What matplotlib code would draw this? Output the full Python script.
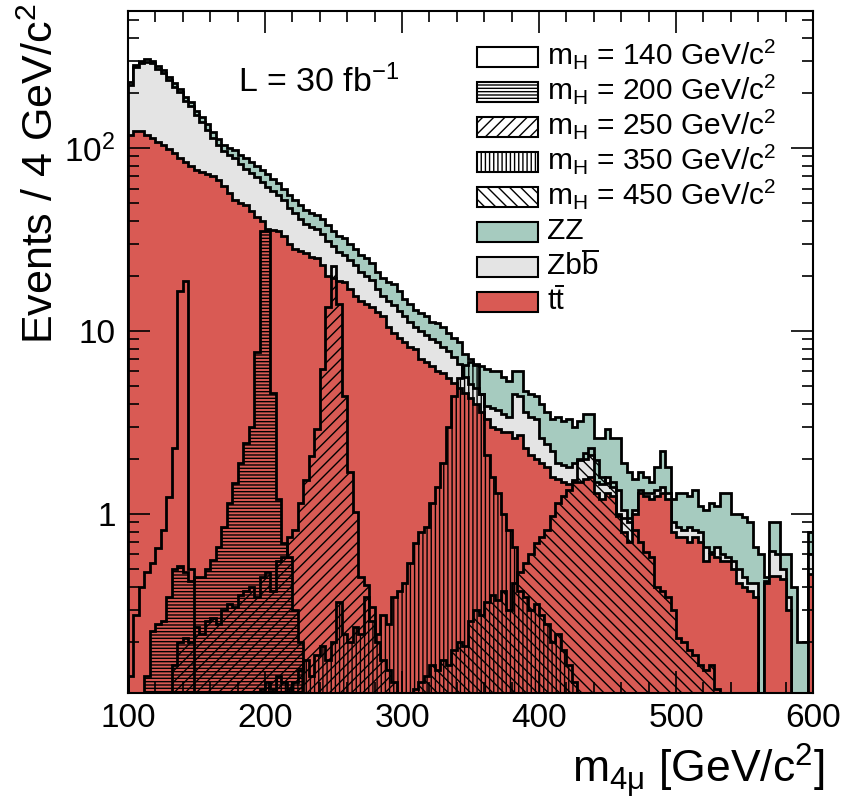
import numpy as np
import matplotlib
matplotlib.use("Agg")
import matplotlib.pyplot as plt
from matplotlib.patches import Rectangle
from matplotlib.lines import Line2D
from matplotlib.ticker import MultipleLocator, LogLocator, NullFormatter

plt.rcParams['font.family'] = ['Liberation Sans', 'DejaVu Sans']
plt.rcParams['mathtext.fontset'] = 'custom'
plt.rcParams['mathtext.rm'] = 'Liberation Sans'
plt.rcParams['mathtext.it'] = 'Liberation Sans:italic'
plt.rcParams['mathtext.bf'] = 'Liberation Sans:bold'
plt.rcParams['hatch.linewidth'] = 1.0

# 4 GeV bins from 100 to 600
edges = np.arange(100, 601, 4)

# stacked outlines (events / 4 GeV/c^2)
tt_top = [118, 124, 124, 118, 113, 108, 104, 99, 94, 88,
          84, 80, 76, 74, 72, 70, 67, 62, 57, 52,
          50, 49, 45, 42, 40, 36, 35.5, 35, 33, 30,
          28, 27.5, 26.5, 25.5, 25, 23, 20, 19.5, 18.7, 18.5,
          17, 15.5, 14.5, 14, 13.5, 12.7, 12, 10.5, 9.8, 9.2,
          8.7, 8.2, 8.0, 7.0, 6.8, 6.4, 6.0, 5.9, 5.5, 5.2,
          4.9, 4.6, 4.3, 4.0, 3.6, 3.3, 3.0, 2.9, 2.8, 2.8,
          2.6, 2.7, 2.3, 2.1, 2.0, 1.9, 1.8, 1.6, 1.55, 1.5,
          1.45, 1.5, 1.5, 1.55, 1.6, 1.3, 1.2, 1.3, 1.25, 1.0,
          0.8, 0.7, 1.0, 1.3, 1.25, 1.2, 1.25, 1.3, 1.2, 0.8,
          0.75, 0.75, 0.7, 0.75, 0.7, 0.55, 0.6, 0.58, 0.55, 0.55,
          0.5, 0.42, 0.4, 0.38, 0.35, 0, 0.42, 0.46, 0.46, 0.44,
          0.3, 0, 0, 0, 0.47]
zbb_top = [222, 276, 291, 296, 291, 271, 256, 236, 216, 201,
           181, 169, 151, 139, 126, 113, 104, 96, 92, 88,
           82, 77, 73, 69, 65, 61, 58, 55, 52, 47,
           44, 41, 38.5, 37, 36, 34, 31, 29, 27, 26,
           24.5, 23, 21, 20, 19, 17, 15.5, 14.5, 13.8, 12.8,
           12, 11.2, 10.5, 10, 9.5, 9.0, 8.7, 8.2, 7.8, 7.2,
           6.6, 5.6, 5.1, 4.9, 4.5, 3.9, 3.8, 3.7, 3.5, 3.4,
           4.5, 4.4, 3.6, 3.4, 3.3, 2.6, 2.4, 2.2, 1.9, 1.85,
           1.8, 1.9, 2.0, 2.0, 2.1, 1.5, 1.45, 1.6, 1.4, 1.35,
           1.05, 0.95, 1.05, 1.35, 1.3, 1.3, 1.35, 1.4, 1.3, 0.9,
           0.85, 0.82, 0.85, 0.82, 0.8, 0.66, 0.62, 0.66, 0.6, 0.58,
           0.55, 0.5, 0.45, 0.42, 0.42, 0, 0.43, 0.63, 0.6, 0.5,
           0.35, 0, 0, 0, 0.6]
zz_top = [230, 285, 300, 305, 300, 280, 265, 245, 225, 210,
          190, 178, 160, 148, 135, 122, 112, 104, 100, 97,
          92, 88, 84, 80, 76, 72, 68, 64, 60, 55,
          52, 49, 46, 44, 43, 41, 38, 35, 33, 32,
          30, 28, 26, 25, 23.5, 21, 19.5, 18.5, 18, 16.5,
          15, 14, 13, 12.5, 12, 11.2, 11, 10.5, 9.8, 9.2,
          8.7, 7.5, 7.0, 6.6, 6.4, 6.2, 6.0, 6.0, 5.6, 5.3,
          6.0, 6.0, 4.7, 4.5, 4.4, 4.0, 3.6, 3.3, 3.4, 3.2,
          3.3, 3.0, 3.2, 3.5, 3.5, 2.6, 2.6, 2.9, 2.6, 2.6,
          1.9, 1.7, 1.55, 1.7, 1.6, 1.5, 1.8, 2.2, 1.8, 1.2,
          1.3, 1.3, 1.25, 1.35, 1.1, 1.05, 1.15, 1.1, 1.3, 1.3,
          1.0, 1.0, 0.96, 0.9, 0.66, 0.6, 0.45, 0.9, 0.9, 0.6,
          0.6, 0.4, 0.2, 0.2, 0.8]

# Higgs signals: first bin edge and bin contents
h140_start = 100
h140 = [0.13, 0.28, 0.4, 0.48, 0.54, 0.65, 0.82, 1.24, 2.3, 16.6, 18.8, 0.5]
h200_start = 112
h200 = [0.13, 0.23, 0.25, 0.26, 0.35, 0.5, 0.52, 0.48, 0.43, 0.45,
        0.45, 0.5, 0.56, 0.66, 0.85, 1.15, 1.48, 1.9, 2.45, 3.0,
        7.7, 35, 35, 4.6, 1.2, 0.69, 0.58, 0.3, 0.2]
h250_start = 128
h250 = [0.1, 0.15, 0.2, 0.21, 0.2, 0.24, 0.22, 0.26, 0.27, 0.25,
        0.3, 0.32, 0.31, 0.36, 0.38, 0.4, 0.35, 0.45, 0.48, 0.38,
        0.55, 0.58, 0.75, 0.82, 1.15, 1.54, 2.07, 2.9, 6.2, 13.5,
        22.5, 14, 4.4, 1.7, 1.03, 0.45, 0.41, 0.31, 0.2, 0.16,
        0.14, 0.12]
h350_start = 196
h350 = [0.11, 0.12, 0.11, 0.13, 0.12, 0.11, 0.12, 0.14, 0.16, 0.13,
        0.17, 0.19, 0.16, 0.2, 0.33, 0.22, 0.2, 0.24, 0.22, 0.35,
        0.26, 0.22, 0.28, 0.25, 0.35, 0.38, 0.42, 0.54, 0.69, 0.8,
        0.85, 1.15, 1.4, 1.9, 3.0, 4.4, 5.5, 6.5, 6.8, 6.5,
        4.5, 2.1, 1.6, 1.3, 1.0, 0.82, 0.66, 0.38, 0.35, 0.3,
        0.32, 0.28, 0.25, 0.2, 0.22, 0.18, 0.15, 0.12]
h450_start = 308
h450 = [0.11, 0.12, 0.13, 0.15, 0.14, 0.16, 0.15, 0.18, 0.2, 0.19,
        0.26, 0.3, 0.28, 0.33, 0.36, 0.34, 0.38, 0.3, 0.42, 0.48,
        0.54, 0.6, 0.69, 0.75, 0.82, 0.97, 1.15, 1.25, 1.35, 1.54,
        1.98, 2.16, 2.3, 1.98, 1.6, 1.48, 1.5, 0.97, 0.95, 0.9,
        0.82, 0.7, 0.62, 0.58, 0.4, 0.38, 0.35, 0.3, 0.21, 0.2,
        0.18, 0.17, 0.15, 0.14, 0.15, 0.11]

sig_labels = ['140', '200', '250', '350', '450']
sig_hatch = ['', '-----', '///', '||||', '\\\\\\']

RED = '#d95a54'
TEAL = '#a6cbbf'
GREY = '#e4e4e4'
BASE = 1e-3
LW = 2.0

W, H = 846, 798
fig = plt.figure(figsize=(W / 100, H / 100), dpi=100)
ax = fig.add_axes([128 / W, 1 - 693 / H, 685 / W, 682 / H])


def clip(v):
    v = np.asarray(v, dtype=float)
    return np.where(v > 0, v, BASE)


# backgrounds, drawn as a stack (top first)
ax.stairs(clip(zz_top), edges, baseline=BASE, fill=True, facecolor=TEAL,
          edgecolor='black', lw=LW)
ax.stairs(clip(zbb_top), edges, baseline=BASE, fill=True, facecolor=GREY,
          edgecolor='black', lw=LW)
ax.stairs(clip(tt_top), edges, baseline=BASE, fill=True, facecolor=RED,
          edgecolor='black', lw=LW)

# signals, hatched and overlaid
signals = [(h140_start, h140), (h200_start, h200), (h250_start, h250),
           (h350_start, h350), (h450_start, h450)]
for (start, vals), hatch in zip(signals, sig_hatch):
    e = start + 4 * np.arange(len(vals) + 1)
    ax.stairs(clip(vals), e, baseline=BASE, fill=True, facecolor='none',
              edgecolor='black', hatch=hatch, lw=LW)

ax.set_xlim(100, 600)
ax.set_yscale('log')
ax.set_ylim(0.105, 560)

ax.xaxis.set_major_locator(MultipleLocator(100))
ax.xaxis.set_minor_locator(MultipleLocator(20))
ax.set_yticks([1, 10, 100], ['1', '10', '$10^{2}$'])
ax.yaxis.set_minor_locator(LogLocator(base=10, subs=np.arange(2, 10)))
ax.yaxis.set_minor_formatter(NullFormatter())
ax.tick_params(which='both', direction='in', top=True, right=True, width=1.2)
ax.tick_params(which='major', length=16, labelsize=24)
ax.tick_params(which='minor', length=8)
ax.tick_params(axis='x', pad=7)
ax.tick_params(axis='y', pad=9)
for s in ax.spines.values():
    s.set_linewidth(1.5)

ax.text(238 / W, 1 - 92 / H, 'L = 30 fb$^{-1}$', transform=fig.transFigure,
        fontsize=24.5, va='baseline', ha='left')

fig.text(42 / W, 1 - 4 / H, 'Events / 4 GeV/c$^{2}$', rotation=90,
         fontsize=31, ha='center', va='top')
fig.text(824 / W, 1 - 783 / H, r'm$_{\mathregular{4μ}}$ [GeV/c$^{2}$]',
         fontsize=32, ha='right', va='baseline')

# legend drawn by hand; the anti-quark bars are drawn as short lines
LEG_FS = 21.5
leg_labels = ['m$_{\\mathregular{H}}$ = %s GeV/c$^{2}$' % m for m in sig_labels]
leg_labels += ['ZZ', 'Zbb', 'tt']
leg_bar = [False] * 6 + [True, True]
leg_face = ['white'] * 5 + [TEAL, GREY, RED]
leg_hatch = sig_hatch + ['', '', '']
renderer = fig.canvas.get_renderer()
for i, (lab, fc, ht, bar) in enumerate(zip(leg_labels, leg_face, leg_hatch, leg_bar)):
    c = 57 + 35 * i
    fig.add_artist(Rectangle((477 / W, 1 - (c + 10) / H), 61 / W, 20 / H,
                             transform=fig.transFigure, facecolor=fc,
                             edgecolor='black', hatch=ht, lw=1.5))
    t = fig.text(547 / W, 1 - (c + 7) / H, lab, fontsize=LEG_FS,
                 va='baseline', ha='left')
    if bar:
        full = t.get_window_extent(renderer)
        t.set_text(lab[:-1])
        part = t.get_window_extent(renderer)
        t.set_text(lab)
        x0, x1 = part.x1 + 1, full.x1 - 1
        ybar = H - (c + 7) + 0.78 * LEG_FS * 100 / 72
        fig.add_artist(Line2D([x0 / W, x1 / W], [ybar / H, ybar / H],
                              transform=fig.transFigure, color='black', lw=1.4))

fig.savefig('out.png', dpi=100)
